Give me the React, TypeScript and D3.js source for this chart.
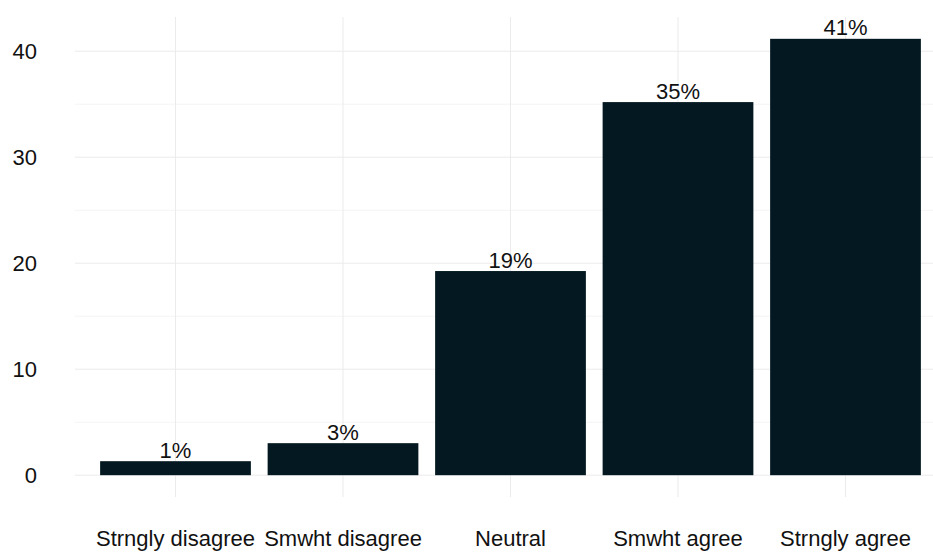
import { scaleBand, scaleLinear } from "d3";

const categories = [
  "Strngly disagree",
  "Smwht disagree",
  "Neutral",
  "Smwht agree",
  "Strngly agree",
];
const values = [1.32, 3.02, 19.26, 35.2, 41.17];
const labels = ["1%", "3%", "19%", "35%", "41%"];
const yTicks = [0, 10, 20, 30, 40];
const yMinor = [5, 15, 25, 35];

const W = 933;
const H = 552;

export default function App() {
  // ggplot-like expansion: 0.6 units on a discrete axis, 5% on the y axis
  const left = 75;
  const right = 946;
  const top = 17;
  const bottom = 497;
  const yMax = Math.max(...values);
  const pad = yMax * 0.05;

  const step = (right - left) / (categories.length + 0.2);
  const x = scaleBand<string>()
    .domain(categories)
    .range([left + 0.1 * step, right - 0.1 * step])
    .paddingInner(0.1)
    .paddingOuter(0.05);

  const y = scaleLinear().domain([-pad, yMax + pad]).range([bottom, top]);

  const font = "'Liberation Sans', Arial, sans-serif";

  return (
    <svg
      width={W}
      height={H}
      style={{ position: "absolute", left: 0, top: 0, background: "#fff" }}
      fontFamily={font}
    >
      {/* minor grid */}
      {yMinor.map((t) => (
        <line key={"m" + t} x1={left} x2={right} y1={y(t)} y2={y(t)} stroke="#f4f4f4" strokeWidth={1} />
      ))}
      {/* major grid */}
      {yTicks.map((t) => (
        <line key={"g" + t} x1={left} x2={right} y1={y(t)} y2={y(t)} stroke="#ebebeb" strokeWidth={1} />
      ))}
      {categories.map((c) => {
        const cx = (x(c) ?? 0) + x.bandwidth() / 2;
        return <line key={"v" + c} x1={cx} x2={cx} y1={top} y2={bottom} stroke="#ebebeb" strokeWidth={1} />;
      })}

      {/* bars */}
      {categories.map((c, i) => (
        <rect
          key={"b" + c}
          x={x(c)}
          y={y(values[i])}
          width={x.bandwidth()}
          height={y(0) - y(values[i])}
          fill="#031820"
        />
      ))}

      {/* bar labels */}
      {categories.map((c, i) => (
        <text
          key={"l" + c}
          x={(x(c) ?? 0) + x.bandwidth() / 2}
          y={y(values[i]) - 3.5}
          textAnchor="middle"
          fontSize={22}
          fill="#111"
        >
          {labels[i]}
        </text>
      ))}

      {/* y axis labels */}
      {yTicks.map((t) => (
        <text key={"y" + t} x={37} y={y(t)} dy="0.36em" textAnchor="end" fontSize={22} fill="#111">
          {t}
        </text>
      ))}

      {/* x axis labels */}
      {categories.map((c) => (
        <text
          key={"x" + c}
          x={(x(c) ?? 0) + x.bandwidth() / 2}
          y={546}
          textAnchor="middle"
          fontSize={22}
          fill="#111"
        >
          {c}
        </text>
      ))}
    </svg>
  );
}
